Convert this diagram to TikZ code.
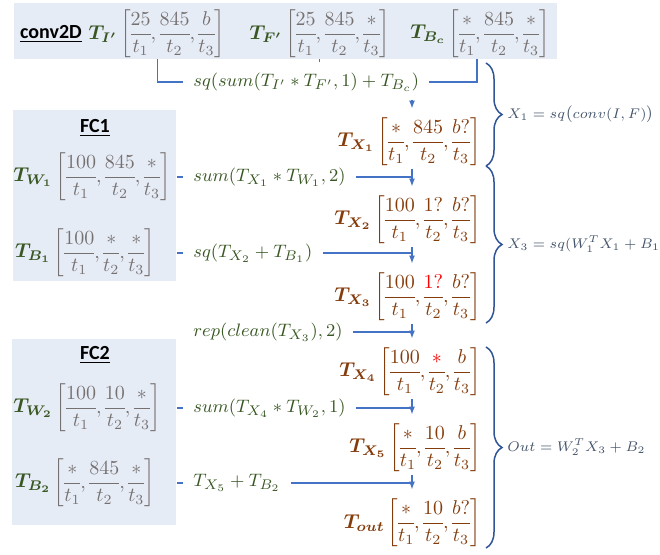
\documentclass[tikz,border=0pt]{standalone}
\usepackage{amsmath}
\usepackage{bm}
\usepackage{fontspec}
\newfontfamily\calibri{Carlito}
\usetikzlibrary{arrows.meta,positioning,calc,decorations.pathreplacing}
\definecolor{PanelBg}{HTML}{E6ECF6}
\definecolor{LinkBlue}{HTML}{4472C4}
\definecolor{BraceBlue}{HTML}{2F5597}
\definecolor{OpGreen}{HTML}{385723}
\definecolor{ResBrown}{HTML}{843C0C}
\definecolor{MatGray}{HTML}{767171}
\definecolor{NoteSlate}{HTML}{44546A}
\setlength{\nulldelimiterspace}{0pt}
\newcommand{\tdims}[3]{\biggl[\dfrac{#1}{t_1},\dfrac{#2}{t_2},\dfrac{#3}{t_3}\biggr]}
\newcommand{\redmark}[1]{\textcolor{red}{#1}}

\begin{document}
\begin{tikzpicture}[
  x=0.5pt,y=-0.5pt,
  panel/.style={fill=PanelBg,inner sep=0pt,anchor=north west},
  title/.style={font=\calibri\bfseries},
  tname/.style={text=OpGreen,inner sep=0.5pt},
  tdim/.style={text=MatGray,inner sep=0.5pt},
  res/.style={text=ResBrown,inner sep=0.5pt},
  op/.style={text=OpGreen,inner sep=5pt,anchor=west,font=\fontsize{9.5}{11}\selectfont},
  link/.style={draw=LinkBlue,line width=0.75pt},
  arrow/.style={-{Latex[length=4pt,width=3pt]},draw=LinkBlue,line width=0.75pt,shorten <=1pt,shorten >=4pt},
  brace/.style={decorate,decoration={brace,amplitude=8pt},draw=BraceBlue,line width=0.75pt},
  note/.style={text=NoteSlate,font=\fontsize{7}{8.4}\selectfont}
]
\useasboundingbox (0,0) rectangle (660,554);
\coordinate (spine) at (412,0);

% conv2D panel
\node[panel,minimum width=271.5pt,minimum height=28pt] (conv) at (14,3) {};
\node[title] (convttl) at (51,34) {\underline{conv2D}};
\node[tname] (TI) at (103,34) {$\bm{T}_{\bm{I'}}$};
\node[tdim,right=0pt of TI] (Imat) {$\tdims{25}{845}{b}$};
\node[tname] (TF) at (266,34) {$\bm{T}_{\bm{F'}}$};
\node[tdim,right=0pt of TF] (Fmat) {$\tdims{25}{845}{*}$};
\node[tname] (TB) at (428,34) {$\bm{T}_{\bm{B_c}}$};
\node[tdim,right=0pt of TB] (Bmat) {$\tdims{*}{845}{*}$};

% FC1 panel
\node[panel,minimum width=81.5pt,minimum height=85.5pt] (fc1) at (13,110) {};
\node[title] (fc1ttl) at (95,128) {\underline{FC1}};
\node[tname] (TW1) at (33,177) {$\bm{T}_{\bm{W_1}}$};
\node[tdim,right=0pt of TW1] (W1mat) {$\tdims{100}{845}{*}$};
\node[tname] (TB1) at (33,253) {$\bm{T}_{\bm{B_1}}$};
\node[tdim,right=0pt of TB1] (B1mat) {$\tdims{100}{*}{*}$};

% FC2 panel
\node[panel,minimum width=82pt,minimum height=93pt] (fc2) at (12,339) {};
\node[title] (fc2ttl) at (95,355) {\underline{FC2}};
\node[tname] (TW2) at (33,408) {$\bm{T}_{\bm{W_2}}$};
\node[tdim,right=0pt of TW2] (W2mat) {$\tdims{100}{10}{*}$};
\node[tname] (TB2) at (33,483) {$\bm{T}_{\bm{B_2}}$};
\node[tdim,right=0pt of TB2] (B2mat) {$\tdims{*}{845}{*}$};

% operations
\node[op] (opconv) at (183,82) {$sq(sum(T_{I'}*T_{F'},1)+T_{B_c})$};
\node[op] (opsum1) at (183,177) {$sum(T_{X_1}*T_{W_1},2)$};
\node[op] (opsq1) at (183,253) {$sq(T_{X_2}+T_{B_1})$};
\node[op] (oprep) at (183,332) {$rep(clean(T_{X_3}),2)$};
\node[op] (opsum2) at (183,408) {$sum(T_{X_4}*T_{W_2},1)$};
\node[op] (opadd2) at (183,483) {$T_{X_5}+T_{B_2}$};

% results
\node[res,anchor=east] (X1) at (482,142) {$\tdims{*}{845}{b?}$};
\node[res,left=0pt of X1] (X1lbl) {$\bm{T}_{\bm{X_1}}$};
\node[res,anchor=east] (X2) at (482,220) {$\tdims{100}{1?}{b?}$};
\node[res,left=0pt of X2] (X2lbl) {$\bm{T}_{\bm{X_2}}$};
\node[res,anchor=east] (X3) at (482,297) {$\tdims{100}{\redmark{1?}}{b?}$};
\node[res,left=0pt of X3] (X3lbl) {$\bm{T}_{\bm{X_3}}$};
\node[res,anchor=east] (X4) at (482,372) {$\tdims{100}{\redmark{*}}{b}$};
\node[res,left=0pt of X4] (X4lbl) {$\bm{T}_{\bm{X_4}}$};
\node[res,anchor=east] (X5) at (482,448) {$\tdims{*}{10}{b}$};
\node[res,left=0pt of X5] (X5lbl) {$\bm{T}_{\bm{X_5}}$};
\node[res,anchor=east] (Xout) at (482,523) {$\tdims{*}{10}{b?}$};
\node[res,left=0pt of Xout] (Xoutlbl) {$\bm{T}_{\bm{out}}$};

% connectors
\draw[link] ([xshift=-7.5pt]Imat.south) |- (opconv.west);
\draw[link] (opconv.east) -| ([xshift=-11pt]Bmat.south);
\draw[link] ([xshift=-9pt]Fmat.south) -- ([xshift=-9pt]Fmat.south |- opconv.north);
\draw[link] (fc1.east |- opsum1) -- (opsum1.west);
\draw[link] (opsum1.east) -- (opsum1 -| spine);
\draw[link] (fc1.east |- opsq1) -- (opsq1.west);
\draw[link] (opsq1.east) -- (opsq1 -| spine);
\draw[link] (oprep.east) -- (oprep -| spine);
\draw[link] (fc2.east |- opsum2) -- (opsum2.west);
\draw[link] (opsum2.east) -- (opsum2 -| spine);
\draw[link] (fc2.east |- opadd2) -- (opadd2.west);
\draw[link] (opadd2.east) -- (opadd2 -| spine);

\draw[arrow] (opconv.south -| spine) -- (X1.north -| spine);
\draw[arrow] (X1.south -| spine) -- (X2.north -| spine);
\draw[arrow] (X2.south -| spine) -- (X3.north -| spine);
\draw[arrow] (X3.south -| spine) -- (X4.north -| spine);
\draw[arrow] (X4.south -| spine) -- (X5.north -| spine);
\draw[arrow] (X5.south -| spine) -- (Xout.north -| spine);

% braces
\draw[brace] (486,63) -- (486,166) node[note,midway,right=7pt] (note1) {$X_1=sq\big(conv(I,F)\big)$};
\draw[brace] (486,166) -- (486,323) node[note,midway,right=7pt] (note2) {$X_3=sq(W_1^TX_1+B_1)$};
\draw[brace] (486,347) -- (486,548) node[note,midway,right=7pt] (note3) {$Out=W_2^TX_3+B_2$};
\end{tikzpicture}
\end{document}
